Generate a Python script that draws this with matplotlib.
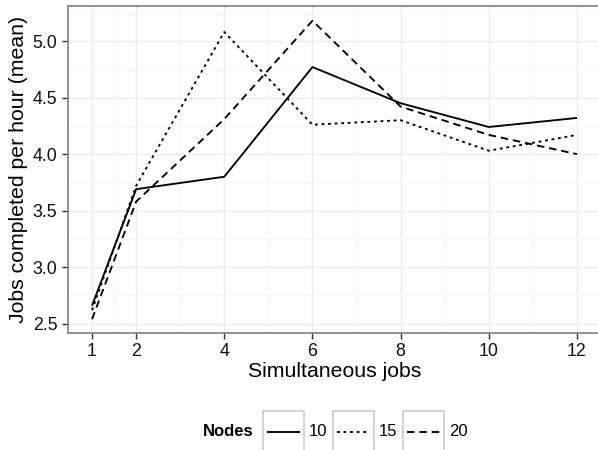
import matplotlib
matplotlib.use("Agg")
import matplotlib.pyplot as plt
from matplotlib.lines import Line2D
from matplotlib.patches import Rectangle

plt.rcParams['font.family'] = ['Liberation Sans', 'DejaVu Sans']

# data
jobs = [1, 2, 4, 6, 8, 10, 12]
nodes = ['10', '15', '20']
mean_10 = [2.66, 3.69, 3.80, 4.77, 4.45, 4.24, 4.32]
mean_15 = [2.62, 3.72, 5.08, 4.26, 4.30, 4.03, 4.17]
mean_20 = [2.54, 3.58, 4.31, 5.18, 4.42, 4.17, 4.00]
series = [mean_10, mean_15, mean_20]
styles = [(0, ()), (0, (1.5, 2.0)), (0, (4.0, 2.6))]

fig = plt.figure(figsize=(5.98, 4.5), dpi=100)
ax = fig.add_axes([67.8 / 598, 117 / 450, (601.2 - 67.8) / 598, 327 / 450])

for vals, ls in zip(series, styles):
    ax.plot(jobs, vals, color='black', lw=1.35, linestyle=ls)

ax.set_xlim(0.45, 12.55)
ax.set_ylim(2.418, 5.31)
ax.set_xticks(jobs)
ax.set_xticks([1.5, 3, 5, 7, 9, 11], minor=True)
ax.set_yticks([2.5, 3.0, 3.5, 4.0, 4.5, 5.0])
ax.set_yticklabels(['2.5', '3.0', '3.5', '4.0', '4.5', '5.0'])
ax.set_yticks([2.75, 3.25, 3.75, 4.25, 4.75, 5.25], minor=True)
ax.grid(True, which='major', color='#ebebeb', lw=0.9)
ax.grid(True, which='minor', color='#f7f7f7', lw=0.9)
ax.set_axisbelow(True)
ax.tick_params(which='minor', length=0)
ax.tick_params(which='major', length=4.5, width=1, color='#333333',
               labelsize=12.8, labelcolor='#111111', pad=3)
for s in ax.spines.values():
    s.set_color('#7f7f7f')
    s.set_linewidth(1.2)
ax.spines['right'].set_visible(False)  # cut off in the original

ax.set_xlabel('Simultaneous jobs', fontsize=15.3, labelpad=1)
ax.set_ylabel('Jobs completed per hour (mean)', fontsize=15.3, labelpad=3)

# legend at the bottom, ggplot style
fig.text(254 / 598, 1 - 432 / 450, 'Nodes', fontsize=12, fontweight='bold',
         ha='right', va='center')
box_left = [263, 333, 403]
for name, ls, bx in zip(nodes, styles, box_left):
    fig.patches.append(Rectangle((bx / 598, 1 - 452 / 450), 41 / 598, 41 / 450,
                                 transform=fig.transFigure, facecolor='white',
                                 edgecolor='#cccccc', lw=1.2))
    fig.lines.append(Line2D([(bx + 4) / 598, (bx + 37) / 598],
                            [1 - 432 / 450, 1 - 432 / 450],
                            transform=fig.transFigure, color='black', lw=1.35,
                            linestyle=ls))
    fig.text((bx + 46) / 598, 1 - 432 / 450, name, fontsize=12,
             ha='left', va='center')

fig.savefig('out.png', dpi=100)
